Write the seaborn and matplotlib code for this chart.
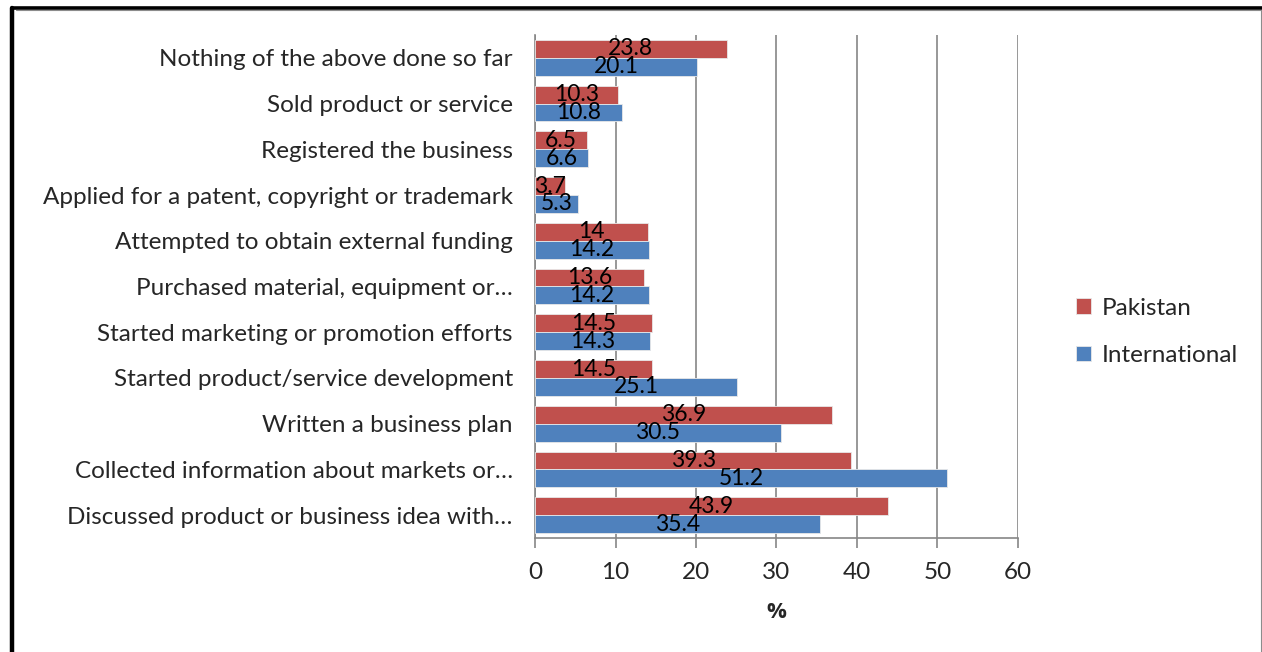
import matplotlib
matplotlib.use("Agg")
import matplotlib.pyplot as plt
import matplotlib.lines as mlines
import seaborn as sns
import pandas as pd

activities = [
    "Nothing of the above done so far",
    "Sold product or service",
    "Registered the business",
    "Applied for a patent, copyright or trademark",
    "Attempted to obtain external funding",
    "Purchased material, equipment or…",
    "Started marketing or promotion efforts",
    "Started product/service development",
    "Written a business plan",
    "Collected information about markets or…",
    "Discussed product or business idea with…",
]
pakistan = [23.8, 10.3, 6.5, 3.7, 14, 13.6, 14.5, 14.5, 36.9, 39.3, 43.9]
international = [20.1, 10.8, 6.6, 5.3, 14.2, 14.2, 14.3, 25.1, 30.5, 51.2, 35.4]
series_names = ["Pakistan", "International"]
x_ticks = [0, 10, 20, 30, 40, 50, 60]

df = pd.DataFrame({
    "activity": activities * 2,
    "value": pakistan + international,
    "series": [series_names[0]] * len(activities) + [series_names[1]] * len(activities),
})

sns.set_theme(style="white")
plt.rcParams["font.family"] = ["Lato", "DejaVu Sans"]

FS = 17.5
fig = plt.figure(figsize=(12.62, 6.52), dpi=100)
ax = fig.add_axes([535 / 1262, 1 - 538 / 652, 483 / 1262, 503 / 652])

palette = {"Pakistan": "#C0504D", "International": "#4F81BD"}
sns.barplot(data=df, y="activity", x="value", hue="series", order=activities,
            hue_order=series_names, palette=palette, orient="h", width=0.78,
            edgecolor="#e8e8e8", linewidth=0.6, saturation=1, ax=ax, zorder=3)

# value labels centred inside each bar
for cont in ax.containers:
    ax.bar_label(cont, labels=[f"{v:g}" for v in cont.datavalues],
                 label_type="center", fontsize=16.5, color="black", zorder=5)

ax.set_xlim(0, 60)
ax.set_ylim(len(activities) - 0.5, -0.5)
ax.set_xticks(x_ticks)
ax.set_xticklabels([str(t) for t in x_ticks], fontsize=FS)
ax.set_xlabel("%", fontsize=FS - 1.5, fontweight="bold", labelpad=14,
              family=["Open Sans", "DejaVu Sans"])
ax.set_ylabel("")
ax.tick_params(axis="y", labelsize=FS, length=0, pad=16)
ax.set_yticks([i - 0.5 for i in range(len(activities) + 1)], minor=True)
ax.tick_params(axis="y", which="minor", length=7, width=1.2, color="#868686",
               direction="out")
ax.tick_params(axis="x", length=7, width=1.2, color="#868686", direction="out",
               pad=10, bottom=True)
ax.grid(axis="x", color="#868686", linewidth=1.2, zorder=0)
ax.grid(axis="y", visible=False)
for side in ["top", "right"]:
    ax.spines[side].set_visible(False)
for side in ["left", "bottom"]:
    ax.spines[side].set_color("#868686")
    ax.spines[side].set_linewidth(1.2)

leg = ax.legend(loc="center left", bbox_to_anchor=(1.095, 0.41), frameon=False,
                fontsize=FS, handlelength=0.6, handleheight=0.6, borderpad=0,
                handletextpad=0.45, labelspacing=1.08)

# outer frame of the figure panel
fig.add_artist(mlines.Line2D([12 / 1262, 1], [1 - 8 / 652, 1 - 8 / 652],
                             color="black", linewidth=2.6, transform=fig.transFigure))
fig.add_artist(mlines.Line2D([12 / 1262, 12 / 1262], [0, 1 - 8 / 652],
                             color="black", linewidth=3.2, transform=fig.transFigure))
fig.add_artist(mlines.Line2D([16 / 1262, 1], [1 - 10 / 652, 1 - 10 / 652],
                             color="#8c8c8c", linewidth=0.8, transform=fig.transFigure))
fig.add_artist(mlines.Line2D([1260.5 / 1262, 1260.5 / 1262], [0, 1 - 10 / 652],
                             color="#8c8c8c", linewidth=0.8, transform=fig.transFigure))

fig.savefig("out.png", dpi=100)
